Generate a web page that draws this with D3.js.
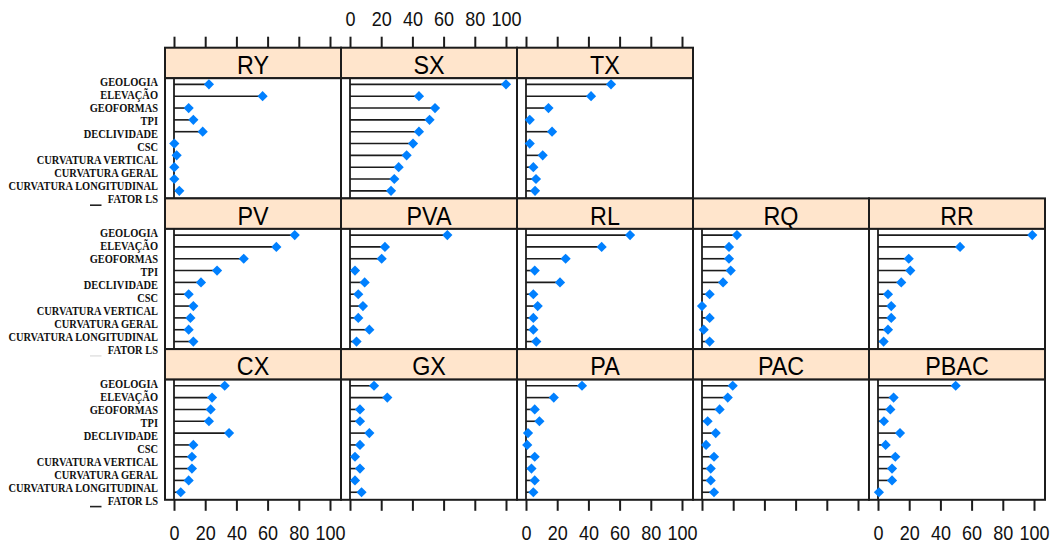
<!DOCTYPE html>
<html>
<head>
<meta charset="utf-8">
<script src="https://cdn.jsdelivr.net/npm/d3@7"></script>
<style>
  html, body { margin: 0; padding: 0; background: #fff; }
  svg { display: block; }
</style>
</head>
<body>
<svg id="chart" width="1052" height="548"></svg>
<script>
// ---------- DATA ----------
const variables = ["GEOLOGIA", "ELEVAÇÃO", "GEOFORMAS", "TPI", "DECLIVIDADE", "CSC",
  "CURVATURA VERTICAL", "CURVATURA GERAL", "CURVATURA LONGITUDINAL", "FATOR LS"];
const xTicks = [0, 20, 40, 60, 80, 100];

const rowTop = ["RY", "SX", "TX"];
const rowMiddle = ["PV", "PVA", "RL", "RQ", "RR"];
const rowBottom = ["CX", "GX", "PA", "PAC", "PBAC"];

const RY   = [22.4, 56.8, 9.4, 12.4, 18.4, 0.2, 1.7, 0.2, 0.2, 3.4];
const SX   = [100, 44.2, 54.5, 51.0, 44.2, 40.4, 36.3, 31.2, 28.4, 26.3];
const TX   = [54.5, 41.7, 14.4, 2.4, 16.7, 2.4, 10.7, 4.7, 6.4, 5.8];
const PV   = [77.4, 65.6, 44.7, 27.6, 17.3, 9.4, 12.4, 10.5, 9.4, 12.4];
const PVA  = [62.4, 22.4, 20.3, 3.2, 9.4, 5.3, 8.3, 5.3, 12.4, 4.2];
const RL   = [66.7, 48.5, 25.4, 5.6, 21.8, 4.7, 7.5, 4.7, 4.7, 6.6];
const RQ   = [22.4, 17.3, 17.3, 18.4, 13.5, 4.9, 0.0, 4.9, 1.1, 4.9];
const RR   = [98.9, 52.6, 19.7, 20.7, 14.9, 6.4, 8.5, 8.5, 6.4, 3.6];
const CX   = [32.5, 24.4, 23.5, 22.4, 35.3, 12.4, 11.5, 11.5, 9.4, 4.3];
const GX   = [15.4, 23.9, 6.4, 6.4, 12.4, 6.4, 3.2, 6.4, 3.2, 7.4];
const PA   = [35.9, 17.8, 5.6, 8.6, 1.3, 0.8, 5.6, 3.5, 5.6, 4.7];
const PAC  = [19.7, 16.5, 11.3, 3.6, 8.8, 2.6, 7.7, 5.6, 5.6, 7.7];
const PBAC = [49.8, 10.0, 7.9, 3.8, 14.1, 4.9, 11.1, 9.0, 9.0, 0.6];

const valuesByPanel = { RY, SX, TX, PV, PVA, RL, RQ, RR, CX, GX, PA, PAC, PBAC };
const layoutRows = [rowTop, rowMiddle, rowBottom];

// ---------- LAYOUT ----------
const svg = d3.select("#chart");
const gridLeft = 165, colW = 176;
const gridTop = 47.7, rowH = 150.7, stripH = 30.5, panelH = 120.2;
const ink = "#1c1c1c";
const stripFill = "#ffe5cc";
const dotFill = "#0080ff";

function colX(c) {
  return d3.scaleLinear().domain([0, 100]).range([gridLeft + c * colW + 9, gridLeft + c * colW + 165]);
}
function rowY(r) { return gridTop + r * rowH; }

const diamond = d3.symbol().type(d3.symbolSquare).size(52)();

// Panels
layoutRows.forEach((names, r) => {
  const sTop = rowY(r);
  const pTop = sTop + stripH;
  const y = d3.scalePoint().domain(variables).range([pTop, pTop + panelH]).padding(0.58).align(0.45);

  // y labels (left side)
  const yl = d3.scalePoint().domain(variables).range([pTop + 4, pTop + 4 + 9 * 13]);
  const lab = svg.append("g");
  variables.forEach(v => {
    lab.append("text")
      .attr("transform", `translate(158,${yl(v)}) scale(0.87,1)`)
      .attr("text-anchor", "end")
      .attr("dominant-baseline", "central")
      .attr("font-family", "'Liberation Serif', 'Times New Roman', serif")
      .attr("font-weight", "bold")
      .attr("font-size", 12)
      .attr("fill", "#111")
      .text(v);
  });
  // small stray mark under the last label
  svg.append("line")
    .attr("x1", 90).attr("x2", 101.5)
    .attr("y1", yl(variables[9]) + 6).attr("y2", yl(variables[9]) + 6)
    .attr("stroke", r === 1 ? "#e4e4e4" : "#222").attr("stroke-width", 1.6);

  names.forEach((name, c) => {
    const x = colX(c);
    const left = gridLeft + c * colW;
    const g = svg.append("g");
    const vals = valuesByPanel[name];

    // strip
    g.append("rect")
      .attr("x", left).attr("y", sTop).attr("width", colW).attr("height", stripH)
      .attr("fill", stripFill).attr("stroke", ink).attr("stroke-width", 2);
    g.append("text")
      .attr("transform", `translate(${left + colW / 2},${sTop + 26.3}) scale(0.88,1)`)
      .attr("text-anchor", "middle")
      .attr("font-family", "'Liberation Sans', Arial, sans-serif")
      .attr("font-size", 26.5)
      .attr("fill", "#000")
      .text(name);

    // panel box
    g.append("rect")
      .attr("x", left).attr("y", pTop).attr("width", colW).attr("height", panelH)
      .attr("fill", "#fff").attr("stroke", ink).attr("stroke-width", 2);

    // zero line
    g.append("line")
      .attr("x1", x(0)).attr("x2", x(0))
      .attr("y1", pTop).attr("y2", pTop + panelH)
      .attr("stroke", ink).attr("stroke-width", 1.8);

    // segments
    g.selectAll("line.seg").data(variables).enter().append("line")
      .attr("class", "seg")
      .attr("x1", x(0)).attr("x2", (v, i) => x(vals[i]))
      .attr("y1", v => y(v)).attr("y2", v => y(v))
      .attr("stroke", ink).attr("stroke-width", 1.6);

    // diamonds
    g.selectAll("path.dot").data(variables).enter().append("path")
      .attr("class", "dot")
      .attr("d", diamond)
      .attr("transform", (v, i) => `translate(${x(vals[i])},${y(v)}) rotate(45)`)
      .attr("fill", dotFill);
  });
});

// ---------- AXES ----------
function drawAxis(c, orient, withLabels) {
  const x = colX(c);
  const g = svg.append("g");
  if (orient === "top") {
    const y0 = gridTop;
    g.attr("transform", `translate(0,${y0})`);
    const ax = d3.axisTop(x).tickValues(xTicks).tickSize(11).tickFormat(withLabels ? d3.format("d") : "");
    g.call(ax);
  } else {
    const y0 = rowY(2) + stripH + panelH;
    g.attr("transform", `translate(0,${y0})`);
    const ax = d3.axisBottom(x).tickValues(xTicks).tickSize(11).tickFormat(withLabels ? d3.format("d") : "");
    g.call(ax);
  }
  g.select(".domain").remove();
  g.selectAll(".tick line").attr("stroke", ink).attr("stroke-width", 2);
  g.selectAll(".tick text")
    .attr("font-family", "'Liberation Sans', Arial, sans-serif")
    .attr("font-size", 20)
    .attr("fill", "#111")
    .attr("dy", null)
    .attr("y", null)
    .attr("dominant-baseline", "central")
    .attr("transform", function () {
      return orient === "top" ? "translate(0,-29) scale(0.9,1)" : "translate(0,33) scale(0.9,1)";
    });
}
[0, 1, 2].forEach(c => drawAxis(c, "top", c === 1));
[0, 1, 2, 3, 4].forEach(c => drawAxis(c, "bottom", c % 2 === 0));
</script>
</body>
</html>
